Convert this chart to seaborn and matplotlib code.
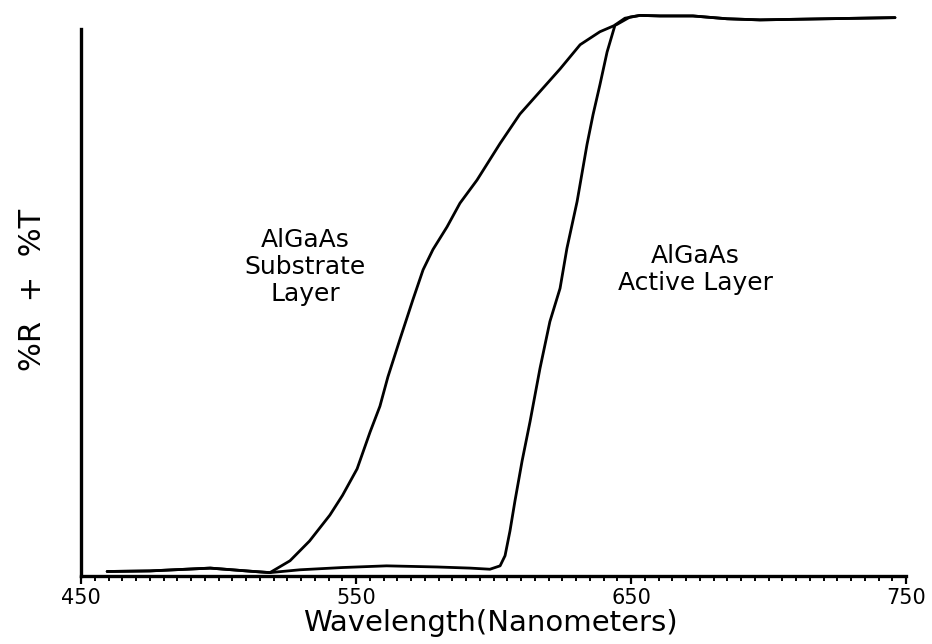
import matplotlib
matplotlib.use("Agg")
import matplotlib.pyplot as plt
from matplotlib.ticker import MultipleLocator, FixedLocator
import seaborn as sns
import pandas as pd

# Reflectance + transmittance spectra of the two AlGaAs layers
wavelength_substrate = [459.5, 475.0, 497.0, 511.5, 518.7, 526.0, 533.1, 540.5, 545.1, 550.4,
                        555.1, 558.7, 561.6, 566.0, 570.7, 574.4, 578.0, 583.1, 587.8, 594.0,
                        602.4, 609.6, 616.9, 624.2, 631.5, 638.7, 644.9, 649.6, 653.3, 660.5,
                        672.5, 684.9, 696.9, 708.9, 733.3, 746.0]
signal_substrate = [0.8, 0.9, 1.4, 0.85, 0.6, 2.7, 6.2, 10.8, 14.3, 19.0,
                    25.5, 30.1, 35.3, 42.0, 49.0, 54.3, 57.9, 61.9, 66.1, 70.2,
                    76.7, 81.9, 85.9, 89.9, 94.2, 96.5, 97.8, 99.1, 99.4, 99.3,
                    99.3, 98.8, 98.6, 98.7, 98.9, 99.0]

wavelength_active = [459.5, 475.0, 497.0, 511.5, 518.7, 529.6, 545.0, 561.1, 579.5, 591.5,
                     598.7, 602.4, 604.2, 606.0, 607.8, 610.4, 613.3, 616.9, 620.5, 624.2,
                     626.7, 630.4, 634.0, 636.2, 638.7, 641.3, 644.2, 647.8, 653.3, 660.5,
                     672.5, 684.9, 696.9, 708.9, 733.3, 746.0]
signal_active = [0.8, 0.9, 1.4, 0.85, 0.6, 1.1, 1.5, 1.8, 1.6, 1.4,
                 1.2, 1.8, 3.6, 8.0, 13.3, 20.4, 27.4, 36.8, 45.1, 51.0,
                 58.1, 66.4, 76.5, 81.8, 87.1, 92.9, 97.7, 98.9, 99.4, 99.3,
                 99.3, 98.8, 98.6, 98.7, 98.9, 99.0]

layer_names = ["Substrate", "Active"]
major_ticks = [450, 550, 650, 750]
tick_labels = ["450", "550", "650", "750"]

df = pd.concat([
    pd.DataFrame({"wavelength": wavelength_substrate, "signal": signal_substrate, "layer": layer_names[0]}),
    pd.DataFrame({"wavelength": wavelength_active, "signal": signal_active, "layer": layer_names[1]}),
], ignore_index=True)

sns.set_style("white")
plt.rcParams["font.family"] = ["DejaVu Sans"]
plt.rcParams["text.color"] = "black"
plt.rcParams["axes.labelcolor"] = "black"
plt.rcParams["xtick.color"] = "black"

fig = plt.figure(figsize=(9.32, 6.44), dpi=100)
ax = fig.add_axes([81 / 932, 68 / 644, 825 / 932, 564 / 644])

sns.lineplot(data=df, x="wavelength", y="signal", hue="layer", palette=["black", "black"],
             sort=False, estimator=None, legend=False, linewidth=2.0, ax=ax)

ax.set_xlim(450, 750)
ax.set_ylim(0, 100)

for side in ["top", "right"]:
    ax.spines[side].set_visible(False)
for side in ["left", "bottom"]:
    ax.spines[side].set_color("black")
    ax.spines[side].set_linewidth(2.4)
ax.spines["left"].set_bounds(0, 97)

ax.xaxis.set_major_locator(FixedLocator(major_ticks))
ax.set_xticklabels(tick_labels)
ax.xaxis.set_minor_locator(MultipleLocator(5))
ax.tick_params(axis="x", which="major", direction="out", length=6, width=1.6,
               color="black", labelsize=15, pad=3, bottom=True, labelcolor="black")
ax.tick_params(axis="x", which="minor", direction="out", length=3.8, width=1.4,
               color="black", bottom=True)
ax.tick_params(axis="y", left=False, labelleft=False)

ax.set_xlabel("Wavelength(Nanometers)", fontsize=21)
ax.xaxis.set_label_coords(0.496, -0.058)
ax.set_ylabel("%R  +  %T", fontsize=22)
ax.yaxis.set_label_coords(-0.041, 0.507)

ax.text(531.5, 54.8, "AlGaAs\nSubstrate\nLayer", ha="center", va="center",
        multialignment="center", fontsize=18, linespacing=1.15)
ax.text(673.5, 54.4, "AlGaAs\nActive Layer", ha="center", va="center",
        multialignment="center", fontsize=18, linespacing=1.15)

fig.savefig("out.png", dpi=100, facecolor="white")
